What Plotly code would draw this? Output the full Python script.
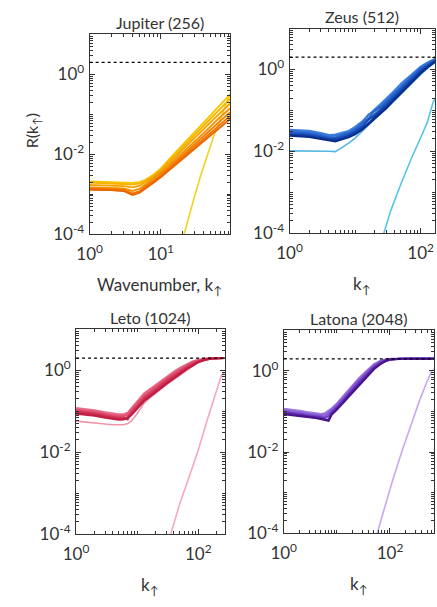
import plotly.graph_objects as go

W, H = 437, 607

# ---------------- DATA (log10 of R) ----------------
panel_titles = ["Jupiter (256)", "Zeus (512)", "Leto (1024)", "Latona (2048)"]
ref_level = 2.0  # dotted horizontal reference

# Jupiter
jup_k = [1, 1.5, 2, 3, 4, 5, 6, 8, 10, 15, 20, 30, 45, 65, 95]
jup_l1 = [-2.68, -2.69, -2.70, -2.71, -2.72, -2.70, -2.65, -2.51, -2.36, -2.02, -1.78, -1.44, -1.11, -0.81, -0.50]
jup_l2 = [-2.71, -2.72, -2.73, -2.74, -2.76, -2.73, -2.67, -2.53, -2.38, -2.06, -1.84, -1.52, -1.20, -0.91, -0.61]
jup_l3 = [-2.77, -2.78, -2.79, -2.80, -2.83, -2.79, -2.71, -2.56, -2.42, -2.11, -1.91, -1.60, -1.29, -1.01, -0.73]
jup_l4 = [-2.83, -2.84, -2.85, -2.86, -2.92, -2.87, -2.77, -2.61, -2.47, -2.18, -1.98, -1.68, -1.39, -1.11, -0.85]
jup_l5 = [-2.86, -2.87, -2.88, -2.89, -2.98, -2.93, -2.81, -2.66, -2.52, -2.23, -2.04, -1.75, -1.47, -1.21, -0.95]
jup_l6 = [-2.87, -2.88, -2.89, -2.91, -3.00, -2.95, -2.84, -2.68, -2.55, -2.28, -2.09, -1.81, -1.54, -1.29, -1.04]
jup_l7 = [-2.89, -2.89, -2.90, -2.92, -3.02, -2.97, -2.86, -2.71, -2.58, -2.31, -2.13, -1.86, -1.60, -1.36, -1.12]
jup_th_k = [21, 25, 30, 37, 46, 57, 70, 85, 95]
jup_th = [-4.05, -3.55, -3.05, -2.50, -2.00, -1.50, -1.10, -0.70, -0.48]

# Zeus
zeus_k = [1, 1.5, 2, 3, 4, 5, 6, 8, 10, 13, 16, 20, 25, 30, 40, 50, 65, 80, 100, 130, 166]
zeus_l1 = [-1.47, -1.48, -1.50, -1.55, -1.60, -1.59, -1.56, -1.50, -1.40, -1.26, -1.12, -0.98, -0.83, -0.71, -0.51, -0.35, -0.19, -0.06, 0.07, 0.18, 0.26]
zeus_l2 = [-1.50, -1.51, -1.53, -1.58, -1.63, -1.62, -1.59, -1.53, -1.44, -1.30, -1.10, -1.02, -0.87, -0.75, -0.55, -0.39, -0.23, -0.09, 0.04, 0.16, 0.25]
zeus_l3 = [-1.53, -1.54, -1.56, -1.61, -1.66, -1.66, -1.62, -1.56, -1.47, -1.33, -1.20, -1.00, -0.91, -0.79, -0.59, -0.43, -0.26, -0.12, 0.02, 0.14, 0.24]
zeus_l4 = [-1.56, -1.57, -1.59, -1.64, -1.68, -1.68, -1.65, -1.58, -1.50, -1.37, -1.24, -1.08, -0.95, -0.83, -0.63, -0.47, -0.30, -0.15, -0.01, 0.12, 0.22]
zeus_l5 = [-1.58, -1.59, -1.61, -1.66, -1.70, -1.71, -1.68, -1.61, -1.53, -1.41, -1.22, -1.13, -0.99, -0.87, -0.67, -0.51, -0.34, -0.19, -0.04, 0.10, 0.21]
zeus_l6 = [-1.60, -1.61, -1.63, -1.68, -1.72, -1.73, -1.70, -1.63, -1.56, -1.44, -1.31, -1.17, -1.03, -0.91, -0.71, -0.55, -0.37, -0.22, -0.07, 0.08, 0.20]
zeus_l7 = [-1.62, -1.63, -1.65, -1.70, -1.74, -1.76, -1.72, -1.66, -1.59, -1.47, -1.34, -1.20, -1.06, -0.95, -0.74, -0.58, -0.40, -0.25, -0.10, 0.06, 0.18]
zeus_low = [-1.99, -1.99, -1.99, -2.00, -2.00, -2.01, -1.93, -1.80, -1.68, -1.50, -1.35, -1.21, -1.07, -0.96, -0.76, -0.60, -0.42, -0.27, -0.12, 0.04, 0.17]
zeus_th_k = [27.5, 35, 50, 71, 100, 126, 155, 166]
zeus_th = [-4.00, -3.45, -2.80, -2.20, -1.67, -1.30, -0.80, -0.72]

# Leto
leto_k = [1, 1.5, 2, 3, 4, 5, 6, 7, 8, 10, 13, 16, 20, 25, 32, 40, 50, 65, 80, 100, 130, 170, 270]
leto_l1 = [-0.92, -0.94, -0.97, -1.02, -1.05, -1.07, -1.07, -1.03, -0.93, -0.76, -0.56, -0.46, -0.35, -0.24, -0.12, -0.03, 0.06, 0.15, 0.22, 0.26, 0.29, 0.30, 0.30]
leto_l2 = [-0.95, -0.97, -1.00, -1.05, -1.08, -1.10, -1.10, -1.06, -0.96, -0.79, -0.60, -0.50, -0.39, -0.27, -0.15, -0.06, 0.04, 0.13, 0.20, 0.25, 0.28, 0.30, 0.30]
leto_l3 = [-0.97, -0.99, -1.02, -1.07, -1.11, -1.12, -1.12, -1.09, -0.99, -0.83, -0.63, -0.53, -0.41, -0.30, -0.18, -0.09, 0.01, 0.11, 0.18, 0.24, 0.28, 0.30, 0.30]
leto_l4 = [-0.99, -1.01, -1.04, -1.09, -1.13, -1.15, -1.15, -1.18, -1.02, -0.86, -0.66, -0.56, -0.44, -0.33, -0.21, -0.11, -0.01, 0.09, 0.17, 0.23, 0.27, 0.29, 0.30]
leto_l5 = [-1.01, -1.03, -1.06, -1.11, -1.15, -1.17, -1.16, -1.20, -1.05, -0.89, -0.69, -0.59, -0.47, -0.36, -0.24, -0.14, -0.04, 0.07, 0.15, 0.22, 0.27, 0.29, 0.30]
leto_l6 = [-1.03, -1.05, -1.08, -1.13, -1.17, -1.19, -1.18, -1.14, -1.08, -0.92, -0.72, -0.62, -0.50, -0.39, -0.27, -0.17, -0.06, 0.05, 0.13, 0.21, 0.26, 0.29, 0.30]
leto_l7 = [-1.06, -1.08, -1.11, -1.16, -1.19, -1.21, -1.20, -1.16, -1.10, -0.95, -0.75, -0.65, -0.53, -0.42, -0.30, -0.20, -0.09, 0.03, 0.11, 0.20, 0.26, 0.29, 0.30]
leto_low = [-1.24, -1.26, -1.28, -1.31, -1.33, -1.34, -1.33, -1.30, -1.24, -1.06, -0.80, -0.67, -0.55, -0.44, -0.32, -0.22, -0.11, 0.01, 0.10, 0.19, 0.25, 0.29, 0.30]
leto_th_k = [35.5, 50, 71, 100, 141, 200, 240, 270]
leto_th = [-4.00, -3.25, -2.60, -1.95, -1.20, -0.50, -0.12, -0.05]

# Latona
lat_k = [1, 1.5, 2, 3, 4, 5, 6, 7, 8, 10, 13, 16, 20, 25, 32, 40, 50, 65, 80, 100, 150, 250, 400, 680]
lat_l1 = [-0.93, -0.95, -0.98, -1.02, -1.05, -1.06, -1.04, -0.98, -0.92, -0.80, -0.62, -0.48, -0.34, -0.20, -0.06, 0.06, 0.17, 0.25, 0.28, 0.30, 0.30, 0.30, 0.30, 0.30]
lat_l2 = [-0.96, -0.98, -1.01, -1.05, -1.08, -1.09, -1.07, -1.02, -0.95, -0.83, -0.66, -0.52, -0.37, -0.23, -0.09, 0.03, 0.15, 0.24, 0.28, 0.29, 0.30, 0.30, 0.30, 0.30]
lat_l3 = [-0.99, -1.01, -1.04, -1.08, -1.10, -1.11, -1.12, -1.06, -0.98, -0.86, -0.69, -0.55, -0.40, -0.26, -0.12, 0.01, 0.13, 0.23, 0.27, 0.29, 0.30, 0.30, 0.30, 0.30]
lat_l4 = [-1.01, -1.03, -1.06, -1.10, -1.12, -1.14, -1.15, -1.12, -1.01, -0.89, -0.72, -0.58, -0.43, -0.29, -0.15, -0.02, 0.11, 0.21, 0.26, 0.29, 0.30, 0.30, 0.30, 0.30]
lat_l5 = [-1.03, -1.05, -1.08, -1.12, -1.14, -1.16, -1.19, -1.20, -1.04, -0.92, -0.75, -0.61, -0.47, -0.32, -0.18, -0.05, 0.08, 0.19, 0.25, 0.28, 0.30, 0.30, 0.30, 0.30]
lat_l6 = [-1.05, -1.07, -1.10, -1.13, -1.15, -1.17, -1.20, -1.22, -1.06, -0.94, -0.78, -0.64, -0.50, -0.35, -0.21, -0.08, 0.06, 0.17, 0.24, 0.28, 0.30, 0.30, 0.30, 0.30]
lat_l7 = [-1.07, -1.09, -1.11, -1.14, -1.16, -1.18, -1.21, -1.23, -1.08, -0.96, -0.80, -0.67, -0.53, -0.38, -0.24, -0.11, 0.04, 0.16, 0.23, 0.28, 0.30, 0.30, 0.30, 0.30]
lat_th_k = [57.5, 79, 112, 166, 251, 355, 501, 603, 676]
lat_th = [-4.00, -3.35, -2.70, -2.00, -1.30, -0.75, -0.25, -0.02, 0.05]

# ---------------- STYLE ----------------
jup_cols = ["#f7c600", "#f6b400", "#f5a200", "#f39000", "#f17f00", "#ef7200", "#ec6600"]
zeus_cols = ["#3f82de", "#3474d5", "#2966cc", "#1f58c0", "#174ab2", "#103ca2", "#0b2d8e"]
leto_cols = ["#ea6f8c", "#e45f7e", "#de5071", "#d84365", "#d1355a", "#c9284e", "#c01c44"]
lat_cols = ["#a078e2", "#9066d8", "#8054cd", "#7042c0", "#6230b0", "#5520a0", "#4a128f"]

panels = [
    dict(k=jup_k, lines=[jup_l1, jup_l2, jup_l3, jup_l4, jup_l5, jup_l6, jup_l7], cols=jup_cols,
         low=None, low_col=None, thk=jup_th_k, th=jup_th, th_col="#f3d21a",
         px=(79, 224), py=(35, 238), xr=1.98, xlab=[0, 1]),
    dict(k=zeus_k, lines=[zeus_l1, zeus_l2, zeus_l3, zeus_l4, zeus_l5, zeus_l6, zeus_l7], cols=zeus_cols,
         low=zeus_low, low_col="#55b6e4", thk=zeus_th_k, th=zeus_th, th_col="#58c4e8",
         px=(285, 435), py=(29, 237), xr=2.22, xlab=[0, 2]),
    dict(k=leto_k, lines=[leto_l1, leto_l2, leto_l3, leto_l4, leto_l5, leto_l6, leto_l7], cols=leto_cols,
         low=leto_low, low_col="#f094a8", thk=leto_th_k, th=leto_th, th_col="#f5a9b8",
         px=(65, 218), py=(335, 543), xr=2.43, xlab=[0, 2]),
    dict(k=lat_k, lines=[lat_l1, lat_l2, lat_l3, lat_l4, lat_l5, lat_l6, lat_l7], cols=lat_cols,
         low=None, low_col=None, thk=lat_th_k, th=lat_th, th_col="#c9a8f2",
         px=(279, 434), py=(336, 542), xr=2.83, xlab=[0, 2]),
]

FONT = "Lato, DejaVu Sans, sans-serif"
TXT = "#333333"
fig = go.Figure()
layout = dict(width=W, height=H, margin=dict(l=0, r=0, t=0, b=0),
              paper_bgcolor="white", plot_bgcolor="white", showlegend=False)

def pw(v):
    return [10 ** x for x in v]

ann = []
for i, p in enumerate(panels):
    n = "" if i == 0 else str(i + 1)
    xa, ya = "x" + n, "y" + n
    fig.add_trace(go.Scatter(x=p["thk"], y=pw(p["th"]), mode="lines", xaxis=xa, yaxis=ya,
                             line=dict(color=p["th_col"], width=1.6)))
    if p["low"] is not None:
        fig.add_trace(go.Scatter(x=p["k"], y=pw(p["low"]), mode="lines", xaxis=xa, yaxis=ya,
                                 line=dict(color=p["low_col"], width=1.6)))
    for vals, c in zip(p["lines"], p["cols"]):
        fig.add_trace(go.Scatter(x=p["k"], y=pw(vals), mode="lines", xaxis=xa, yaxis=ya,
                                 line=dict(color=c, width=1.9)))
    fig.add_shape(type="line", xref=xa + " domain", yref=ya, x0=0, x1=1, y0=ref_level, y1=ref_level,
                  line=dict(color="black", width=1.3, dash="dot"))

    x0, x1 = p["px"]
    y0, y1 = p["py"]
    maxdec = int(p["xr"]) + 1
    xt = [10 ** e for e in p["xlab"]]
    xtt = ["10<sup>%d</sup>" % e for e in p["xlab"]]
    xminor = [m * 10 ** e for e in range(0, maxdec) for m in range(1, 10)
              if not (m == 1 and e in p["xlab"])]
    yt = [10 ** e for e in (-4, -2, 0)]
    ytt = ["10<sup>%d</sup>" % e for e in (-4, -2, 0)]
    yminor = [m * 10 ** e for e in range(-4, 1) for m in range(1, 10)
              if not (m == 1 and e in (-4, -2, 0))] + [10]
    common = dict(type="log", showline=True, linecolor=TXT, linewidth=1, mirror="ticks",
                  ticks="inside", ticklen=5, tickwidth=1, tickcolor=TXT, showgrid=False, zeroline=False,
                  tickfont=dict(family=FONT, size=17, color=TXT),
                  minor=dict(ticks="inside", ticklen=3, tickcolor=TXT, tickwidth=1, showgrid=False))
    xa_d = dict(common, domain=[x0 / W, x1 / W], range=[0, p["xr"]], anchor=ya,
                tickvals=xt, ticktext=xtt, ticklabelstandoff=5)
    xa_d["minor"] = dict(common["minor"], tickvals=xminor)
    ya_d = dict(common, domain=[1 - y1 / H, 1 - y0 / H], range=[-4, 1], anchor=xa,
                tickvals=yt, ticktext=ytt, ticklabelstandoff=1)
    ya_d["minor"] = dict(common["minor"], tickvals=yminor)
    layout["xaxis" + n] = xa_d
    layout["yaxis" + n] = ya_d

    ann.append(dict(text=panel_titles[i], x=(x0 + x1) / 2 / W, y=1 - (y0 - 12) / H, xref="paper", yref="paper",
                    showarrow=False, font=dict(family=FONT, size=16, color=TXT), xanchor="center", yanchor="middle"))
    xtitle = "Wavenumber, k<sub>↑</sub>" if i == 0 else "k<sub>↑</sub>"
    ann.append(dict(text=xtitle, x=(x0 + x1) / 2 / W, y=1 - (y1 + 53) / H, xref="paper", yref="paper",
                    showarrow=False, font=dict(family=FONT, size=17, color=TXT), xanchor="center", yanchor="middle"))

ann.append(dict(text="R(k<sub>↑</sub>)", x=20 / W, y=1 - 133 / H, xref="paper", yref="paper", textangle=-90,
                showarrow=False, font=dict(family=FONT, size=16, color=TXT), xanchor="center", yanchor="middle"))
layout["annotations"] = ann
fig.update_layout(**layout)
fig.write_html("out.html")
